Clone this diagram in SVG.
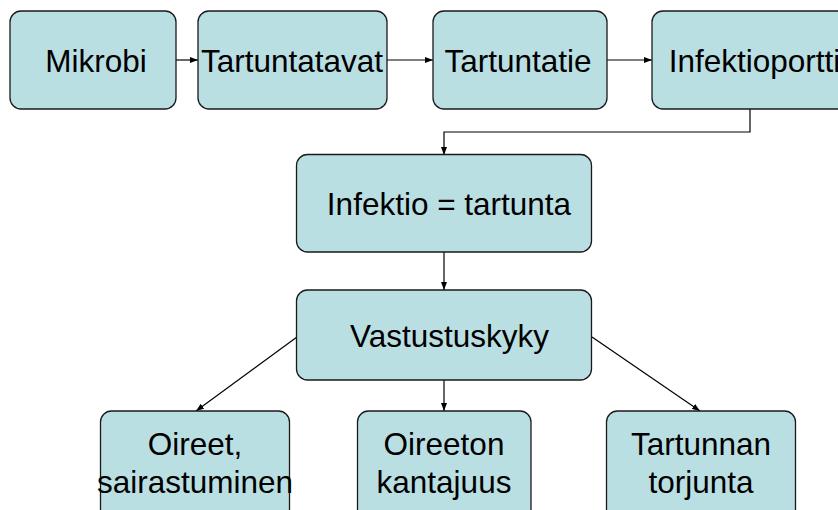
<svg xmlns="http://www.w3.org/2000/svg" width="838" height="510" viewBox="0 0 838 510">
<style>
.box{fill:#BADFE3;stroke:#1a1a1a;stroke-width:1.3}
.t{font-family:"Liberation Sans",Arial,sans-serif;font-size:31.5px;fill:#000;text-anchor:middle}
.c{fill:none;stroke:#000;stroke-width:1.2}
</style>
<defs>
<marker id="ah" markerWidth="8" markerHeight="6" refX="8" refY="3" orient="auto" markerUnits="userSpaceOnUse">
<path d="M0,0 L8,3 L0,6 Z" fill="#000"/>
</marker>
</defs>
<rect width="838" height="510" fill="#fff"/>
<g id="connectors">
<line class="c" x1="176" y1="60" x2="198" y2="60" marker-end="url(#ah)"/>
<line class="c" x1="387" y1="60" x2="433" y2="60" marker-end="url(#ah)"/>
<line class="c" x1="607" y1="60" x2="652" y2="60" marker-end="url(#ah)"/>
<polyline class="c" points="750,109 750,132 444,132 444,155" marker-end="url(#ah)"/>
<line class="c" x1="444" y1="252" x2="444" y2="290" marker-end="url(#ah)"/>
<line class="c" x1="297" y1="337" x2="196" y2="411" marker-end="url(#ah)"/>
<line class="c" x1="444" y1="380" x2="444" y2="411" marker-end="url(#ah)"/>
<line class="c" x1="592" y1="337" x2="700" y2="411" marker-end="url(#ah)"/>
</g>
<g id="mikrobi">
<rect class="box" x="10" y="11" width="166" height="98" rx="11"/>
<text class="t" x="96" y="72">Mikrobi</text>
</g>
<g id="tartuntatavat">
<rect class="box" x="198" y="11" width="189" height="98" rx="11"/>
<text class="t" x="292" y="72">Tartuntatavat</text>
</g>
<g id="tartuntatie">
<rect class="box" x="433" y="11" width="174" height="98" rx="11"/>
<text class="t" x="518" y="72">Tartuntatie</text>
</g>
<g id="infektioportti">
<rect class="box" x="652" y="11" width="200" height="98" rx="11"/>
<text class="t" x="754.5" y="72">Infektioportti</text>
</g>
<g id="infektio">
<rect class="box" x="296.5" y="154.5" width="295" height="97.5" rx="11"/>
<text class="t" x="449" y="215">Infektio = tartunta</text>
</g>
<g id="vastustuskyky">
<rect class="box" x="296.5" y="290" width="295" height="90" rx="11"/>
<text class="t" x="449.5" y="347">Vastustuskyky</text>
</g>
<g id="oireet">
<rect class="box" x="100.5" y="411" width="189" height="110" rx="11"/>
<text class="t" x="195" y="455">Oireet,</text>
<text class="t" x="195" y="493">sairastuminen</text>
</g>
<g id="oireeton">
<rect class="box" x="357.5" y="411" width="173.5" height="110" rx="11"/>
<text class="t" x="444" y="455">Oireeton</text>
<text class="t" x="444" y="493">kantajuus</text>
</g>
<g id="tartunnan">
<rect class="box" x="606.5" y="411" width="189" height="110" rx="11"/>
<text class="t" x="701" y="455">Tartunnan</text>
<text class="t" x="701" y="493">torjunta</text>
</g>
</svg>
